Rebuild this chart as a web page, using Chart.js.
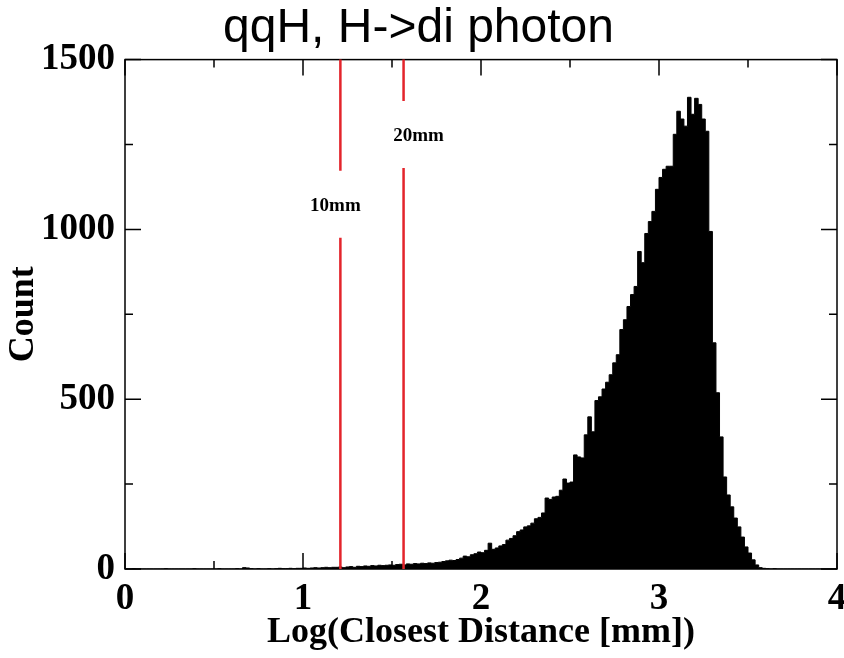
<!DOCTYPE html>
<html lang="en">

<head>
    <meta charset="UTF-8">
    <title>qqH, H->di photon</title>
    <style>
        html, body {
            margin: 0;
            padding: 0;
            background: #fff;
        }

        #wrap {
            width: 844px;
            height: 658px;
        }
    </style>
</head>

<body>
    <div id="wrap">
        <canvas id="distHist"></canvas>
    </div>
    <script src="https://cdn.jsdelivr.net/npm/chart.js"></script>
    <script>
        // histogram of log10 closest distance, 200 bins of 0.02
        const binWidth = 0.02;
        const counts = [
            0, 0, 0, 1, 0, 0, 0, 0, 0, 0,
            0, 0, 1, 0, 0, 0, 0, 0, 0, 0,
            1, 0, 0, 0, 0, 0, 0, 1, 0, 0,
            0, 0, 1, 0, 4, 3, 1, 0, 1, 0,
            0, 1, 0, 1, 2, 1, 1, 2, 1, 2,
            2, 3, 2, 3, 4, 3, 4, 5, 4, 5,
            5, 6, 4, 6, 7, 5, 8, 7, 9, 8,
            10, 9, 11, 10, 11, 12, 11, 13, 14, 12,
            15, 14, 16, 15, 17, 16, 18, 17, 19, 20,
            22, 24, 26, 25, 28, 32, 38, 36, 42, 45,
            50, 48, 55, 76, 58, 62, 68, 72, 85, 90,
            98, 110, 115, 124, 127, 135, 148, 152, 165, 209,
            205, 212, 214, 232, 265, 253, 256, 336, 330, 327,
            395, 448, 404, 496, 507, 530, 550, 572, 607, 631,
            705, 734, 773, 808, 832, 935, 902, 988, 1023, 1053,
            1118, 1153, 1177, 1186, 1186, 1280, 1348, 1325, 1304, 1389,
            1339, 1386, 1368, 1325, 1289, 994, 666, 519, 389, 271,
            218, 183, 150, 124, 94, 65, 47, 27, 12, 4,
            2, 1, 0, 1, 0, 0, 0, 0, 0, 0,
            0, 0, 0, 0, 0, 0, 0, 0, 0, 0
        ];
        const binStarts = counts.map((c, i) => +(i * binWidth).toFixed(2));

        const xTicks = [0, 1, 2, 3, 4];
        const yTicks = [0, 500, 1000, 1500];

        // distance cuts, in log units
        const cutPositions = [1.21, 1.565];
        const cutLabels = ['10mm', '20mm'];

        const histPoints = binStarts.map((x, i) => ({ x: x, y: counts[i] }));
        histPoints.push({ x: 4, y: 0 });

        const serifBold = (size) => ({ family: '"Liberation Serif", "Times New Roman", serif', size: size, weight: 'bold' });

        // inward ticks on all four sides + frame
        const frameTicks = {
            id: 'frameTicks',
            afterDatasetsDraw(chart) {
                const { ctx, chartArea: a, scales: { x, y } } = chart;
                ctx.save();
                ctx.strokeStyle = '#000';
                ctx.lineWidth = 1.5;
                ctx.strokeRect(a.left, a.top, a.right - a.left, a.bottom - a.top);
                ctx.beginPath();
                for (let v = 0; v <= 4.001; v += 0.5) {
                    const px = x.getPixelForValue(v);
                    const len = Number.isInteger(v) ? 16 : 8;
                    ctx.moveTo(px, a.bottom); ctx.lineTo(px, a.bottom - len);
                    ctx.moveTo(px, a.top); ctx.lineTo(px, a.top + len);
                }
                for (let v = 0; v <= 1500; v += 250) {
                    const py = y.getPixelForValue(v);
                    const len = v % 500 === 0 ? 16 : 8;
                    ctx.moveTo(a.left, py); ctx.lineTo(a.left + len, py);
                    ctx.moveTo(a.right, py); ctx.lineTo(a.right - len, py);
                }
                ctx.stroke();
                ctx.restore();
            }
        };

        // red vertical cut lines with their labels in a gap
        const cutLines = {
            id: 'cutLines',
            afterDatasetsDraw(chart, args, opts) {
                const { ctx, chartArea: a, scales: { x, y } } = chart;
                ctx.save();
                ctx.strokeStyle = '#e3242b';
                ctx.lineWidth = 2.5;
                ctx.font = 'bold 19px "Liberation Serif", serif';
                ctx.textAlign = 'center';
                ctx.textBaseline = 'middle';
                cutPositions.forEach((pos, i) => {
                    const px = x.getPixelForValue(pos);
                    const py = y.getPixelForValue(opts.labelAt[i]);
                    ctx.beginPath();
                    ctx.moveTo(px, a.top);
                    ctx.lineTo(px, py - opts.gapAbove[i]);
                    ctx.moveTo(px, py + opts.gapBelow[i]);
                    ctx.lineTo(px, a.bottom);
                    ctx.stroke();
                    ctx.fillStyle = '#000';
                    ctx.fillText(cutLabels[i], px + opts.labelShift[i], py);
                });
                ctx.restore();
            }
        };

        new Chart(document.getElementById('distHist'), {
            type: 'line',
            data: {
                datasets: [{
                    data: histPoints,
                    stepped: 'after',
                    fill: 'origin',
                    backgroundColor: '#000',
                    borderColor: '#000',
                    borderWidth: 1,
                    pointRadius: 0
                }]
            },
            options: {
                responsive: true,
                maintainAspectRatio: false,
                animation: false,
                layout: { padding: { left: 0, right: 7, top: 0, bottom: 0 } },
                plugins: {
                    legend: { display: false },
                    tooltip: { enabled: false },
                    title: {
                        display: true,
                        text: 'qqH, H->di photon',
                        color: '#000',
                        font: { family: '"Liberation Sans", Arial, sans-serif', size: 48, weight: 'normal' },
                        padding: { top: 0, bottom: 2 }
                    },
                    cutLines: {
                        labelAt: [1070, 1275],
                        gapAbove: [35, 35],
                        gapBelow: [32, 32],
                        labelShift: [-5, 15]
                    }
                },
                scales: {
                    x: {
                        type: 'linear',
                        min: 0,
                        max: 4,
                        afterBuildTicks: (s) => { s.ticks = xTicks.map(v => ({ value: v })); },
                        afterFit: (s) => { s.height = 89; s.paddingRight = 0; s.paddingLeft = 0; },
                        grid: { display: false, drawTicks: false },
                        border: { display: false },
                        ticks: { color: '#000', font: serifBold(37), padding: 8, maxRotation: 0 },
                        title: {
                            display: true,
                            text: 'Log(Closest Distance [mm])',
                            color: '#000',
                            font: serifBold(36),
                            padding: { top: 0, bottom: 4 }
                        }
                    },
                    y: {
                        min: 0,
                        max: 1500,
                        afterBuildTicks: (s) => { s.ticks = yTicks.map(v => ({ value: v })); },
                        afterFit: (s) => { s.width = 125; },
                        grid: { display: false, drawTicks: false },
                        border: { display: false },
                        ticks: {
                            color: '#000',
                            font: serifBold(37),
                            padding: 10,
                            callback: (v) => String(v)
                        },
                        title: {
                            display: true,
                            text: 'Count',
                            color: '#000',
                            font: serifBold(36),
                            padding: { top: 2, bottom: 0 }
                        }
                    }
                }
            },
            plugins: [frameTicks, cutLines]
        });
    </script>
</body>

</html>
